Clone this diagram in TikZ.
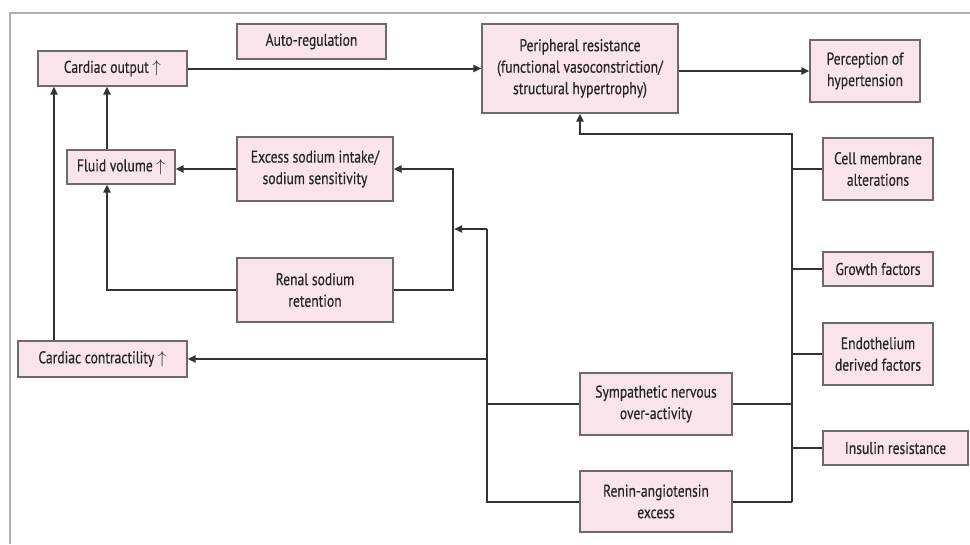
\documentclass[tikz,border=0pt]{standalone}
\usepackage{fontspec}
\setmainfont{PT Sans}[FakeStretch=0.8,FakeBold=0.4]
\usetikzlibrary{arrows.meta}
\definecolor{boxfill}{HTML}{F8E4EA}
\definecolor{boxline}{HTML}{6E6A6B}
\definecolor{lin}{HTML}{333333}
\definecolor{frame}{HTML}{B0B0B0}
\definecolor{txt}{HTML}{262626}
\tikzset{
  pbox/.style={draw=boxline, fill=boxfill, line width=1.2pt, inner sep=0pt, align=center,
    font=\fontsize{17}{21.5}\selectfont, text=txt},
  conn/.style={draw=lin, line width=2pt},
  arr/.style={conn, -{Triangle[length=8pt,width=7pt]}},
}
\begin{document}
\begin{tikzpicture}[x=1pt,y=-1pt]
\useasboundingbox[fill=white] (0,0) rectangle (970,544);
\draw[frame, line width=2pt] (970,13) -- (10,13) -- (10,544);
% nodes
\node[pbox, minimum width=149pt, minimum height=35pt] (co) at (112.5,68.5) {Cardiac output $\uparrow$};
\node[pbox, minimum width=149pt, minimum height=35pt] (auto) at (311.5,41.5) {Auto-regulation};
\node[pbox, minimum width=196pt, minimum height=89pt] (pr) at (580,68.5) {Peripheral resistance\\(functional vasoconstriction/\\structural hypertrophy)};
\node[pbox, minimum width=110pt, minimum height=62pt] (perc) at (865,71) {Perception of\\hypertension};
\node[pbox, minimum width=110pt, minimum height=62pt] (cell) at (878,169) {Cell membrane\\alterations};
\node[pbox, minimum width=110pt, minimum height=34pt] (growth) at (878,269) {Growth factors};
\node[pbox, minimum width=110pt, minimum height=62pt] (endo) at (878,354) {Endothelium\\derived factors};
\node[pbox, minimum width=145pt, minimum height=34pt] (ins) at (895.5,448) {Insulin resistance};
\node[pbox, minimum width=152pt, minimum height=62pt] (symp) at (656,404) {Sympathetic nervous\\over-activity};
\node[pbox, minimum width=152pt, minimum height=61pt] (renin) at (656,501.5) {Renin-angiotensin\\excess};
\node[pbox, minimum width=108pt, minimum height=34pt] (fluid) at (121,167) {Fluid volume $\uparrow$};
\node[pbox, minimum width=156pt, minimum height=64pt] (excess) at (315,169) {Excess sodium intake/\\sodium sensitivity};
\node[pbox, minimum width=156pt, minimum height=64pt] (renal) at (315,290) {Renal sodium\\retention};
\node[pbox, minimum width=169pt, minimum height=36pt] (cc) at (102.5,359) {Cardiac contractility $\uparrow$};
% coordinates
\coordinate (bt) at (792,134);
\coordinate (bb) at (792,501.5);
\coordinate (lt) at (487,229);
\coordinate (mid) at (453,229);
% connectors
\draw[arr] (co.east) -- (co.east -| pr.west);
\draw[arr] (pr.east |- perc.west) -- (perc.west);
\draw[arr] (bb) -- (bt) -| (pr.south);
\draw[conn] (cell.west) -- (cell.west -| bt);
\draw[conn] (growth.west) -- (growth.west -| bt);
\draw[conn] (endo.west) -- (endo.west -| bt);
\draw[conn] (ins.west) -- (ins.west -| bt);
\draw[conn] (symp.east) -- (symp.east -| bt);
\draw[conn] (renin.east) -- (bb);
\draw[conn] (renin.west) -| (lt);
\draw[conn] (symp.west) -- (symp.west -| lt);
\draw[arr, shorten >=1pt] (lt) -- (mid);
\draw[arr] (lt |- cc.east) -- (cc.east);
\draw[arr] (renal.east) -| (mid |- excess.east) -- (excess.east);
\draw[arr] (excess.west) -- (excess.west -| fluid.east);
\draw[arr] (renal.west) -| ([xshift=-14pt]fluid.south);
\draw[arr] ([xshift=-14pt]fluid.north) -- ([xshift=-14pt]fluid.north |- co.south);
\draw[arr] ([xshift=-48.5pt]cc.north) -- ([xshift=-48.5pt]cc.north |- co.south);
\end{tikzpicture}
\end{document}
